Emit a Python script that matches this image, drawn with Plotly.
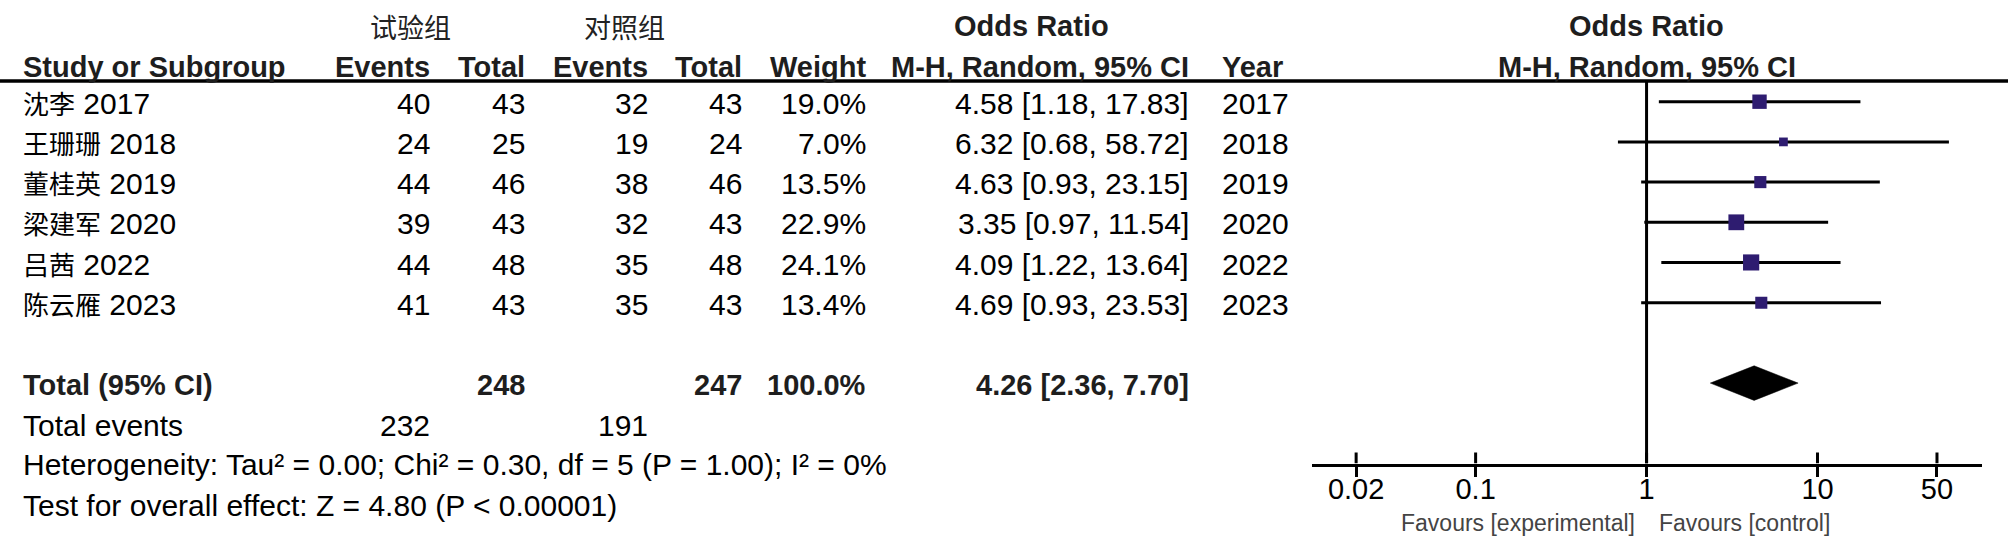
import math
import plotly.graph_objects as go

W, H = 2008, 544

# ---------------- data ----------------
studies = ["沈李 2017", "王珊珊 2018", "董桂英 2019", "梁建军 2020", "吕茜 2022", "陈云雁 2023"]
exp_events = [40, 24, 44, 39, 44, 41]
exp_total = [43, 25, 46, 43, 48, 43]
ctl_events = [32, 19, 38, 32, 35, 35]
ctl_total = [43, 24, 46, 43, 48, 43]
weights = [19.0, 7.0, 13.5, 22.9, 24.1, 13.4]
odds = [4.58, 6.32, 4.63, 3.35, 4.09, 4.69]
ci_low = [1.18, 0.68, 0.93, 0.97, 1.22, 0.93]
ci_high = [17.83, 58.72, 23.15, 11.54, 13.64, 23.53]
years = [2017, 2018, 2019, 2020, 2022, 2023]

total_exp = 248
total_ctl = 247
total_weight = 100.0
pooled_or = 4.26
pooled_low = 2.36
pooled_high = 7.70
total_exp_events = 232
total_ctl_events = 191
heterogeneity = "Heterogeneity: Tau² = 0.00; Chi² = 0.30, df = 5 (P = 1.00); I² = 0%"
overall = "Test for overall effect: Z = 4.80 (P < 0.00001)"

tick_vals = [0.02, 0.1, 1, 10, 50]
tick_text = ["0.02", "0.1", "1", "10", "50"]
favours_left = "Favours [experimental]"
favours_right = "Favours [control]"

# ---------------- layout geometry (pixels) ----------------
FONT = "Liberation Sans, Arial, Noto Sans CJK SC, sans-serif"
CJK = "Noto Sans CJK SC, sans-serif"
BODY = 30
BOLD = 29

row0_px = 101.7          # y pixel of first study row (marks)
row_step = 40.2
axis_px = row0_px + 9 * row_step   # axis line position (row index 9)
plot_left, plot_right = 1312.0, 1982.0
x_at_1, px_per_decade = 1646.56, 170.94
xr = [(plot_left - x_at_1) / px_per_decade, (plot_right - x_at_1) / px_per_decade]
y_top_idx = -row0_px / row_step
header_line_px = 81.0
header_idx = (header_line_px - row0_px) / row_step
total_idx = 7
text_off = 1.5
LEFT = 21.0
BLACK2 = "#1e1e1e"


def row_px(i):
    return row0_px + i * row_step


fig = go.Figure()

# confidence interval lines
cx, cy = [], []
for i, (lo, hi) in enumerate(zip(ci_low, ci_high)):
    cx += [lo, hi, None]
    cy += [i, i, None]
fig.add_trace(go.Scatter(x=cx, y=cy, mode="lines", line=dict(color="black", width=3),
                         hoverinfo="skip", showlegend=False))

# line of no effect
fig.add_trace(go.Scatter(x=[1, 1], y=[header_idx, 9], mode="lines",
                         line=dict(color="black", width=3), hoverinfo="skip", showlegend=False))

# upper halves of the tick marks (crossing the axis line)
tx, ty = [], []
for v in tick_vals:
    tx += [v, v, None]
    ty += [9, 9 - 11 / row_step, None]
fig.add_trace(go.Scatter(x=tx, y=ty, mode="lines", line=dict(color="black", width=3),
                         hoverinfo="skip", showlegend=False))

# squares (area proportional to weight)
fig.add_trace(go.Scatter(
    x=odds, y=list(range(len(odds))), mode="markers",
    marker=dict(symbol="square", color="#2e1c70", opacity=1,
                size=[3.3 * math.sqrt(w) for w in weights], line=dict(width=0)),
    hoverinfo="skip", showlegend=False))

# pooled diamond
dh = 17.3 / row_step
fig.add_trace(go.Scatter(
    x=[pooled_low, pooled_or, pooled_high, pooled_or, pooled_low],
    y=[total_idx, total_idx - dh, total_idx, total_idx + dh, total_idx],
    mode="lines", fill="toself", fillcolor="black", line=dict(color="black", width=0.5),
    hoverinfo="skip", showlegend=False))

# ---------------- text ----------------
ann = []


def txt(s, x, y, anchor="left", size=BODY, bold=False, color="black", family=FONT):
    ann.append(dict(text=f"<b>{s}</b>" if bold else s, x=x / W, y=1 - y / H,
                    xref="paper", yref="paper", xanchor=anchor, yanchor="middle",
                    showarrow=False, font=dict(family=family, size=size, color=color)))


hdr_a, hdr_b = 26.5, 67.0
txt("试验组", 410, hdr_a, "center", size=27, color="#222222", family=CJK)
txt("对照组", 624, hdr_a, "center", size=27, color="#222222", family=CJK)
txt("Odds Ratio", 1031, hdr_a, "center", BOLD, True, BLACK2)
txt("Odds Ratio", x_at_1, hdr_a, "center", BOLD, True, BLACK2)

txt("Study or Subgroup", LEFT, hdr_b, "left", BOLD, True, BLACK2)
txt("Events", 432, hdr_b, "right", BOLD, True, BLACK2)
txt("Total", 527, hdr_b, "right", BOLD, True, BLACK2)
txt("Events", 649.5, hdr_b, "right", BOLD, True, BLACK2)
txt("Total", 743.5, hdr_b, "right", BOLD, True, BLACK2)
txt("Weight", 868, hdr_b, "right", BOLD, True, BLACK2)
txt("M-H, Random, 95% CI", 1190.5, hdr_b, "right", BOLD, True, BLACK2)
txt("Year", 1219.5, hdr_b, "left", BOLD, True, BLACK2)
txt("M-H, Random, 95% CI", x_at_1, hdr_b, "center", BOLD, True, BLACK2)

for i in range(len(studies)):
    y = row_px(i) + text_off
    name, yr = studies[i].split(" ")
    txt(f'<span style="font-size:26px">{name}</span> {yr}', LEFT, y, "left")
    txt(str(exp_events[i]), 432, y, "right")
    txt(str(exp_total[i]), 527, y, "right")
    txt(str(ctl_events[i]), 649.5, y, "right")
    txt(str(ctl_total[i]), 743.5, y, "right")
    txt(f"{weights[i]:.1f}%", 868, y, "right")
    txt(f"{odds[i]:.2f} [{ci_low[i]:.2f}, {ci_high[i]:.2f}]", 1190.5, y, "right")
    txt(str(years[i]), 1219.5, y, "left")

yt = row_px(total_idx) + 2.0
txt("Total (95% CI)", LEFT, yt, "left", BOLD, True, BLACK2)
txt(str(total_exp), 527, yt, "right", BOLD, True, BLACK2)
txt(str(total_ctl), 743.5, yt, "right", BOLD, True, BLACK2)
txt(f"{total_weight:.1f}%", 868, yt, "right", BOLD, True, BLACK2)
txt(f"{pooled_or:.2f} [{pooled_low:.2f}, {pooled_high:.2f}]", 1190.5, yt, "right", BOLD, True, BLACK2)

txt("Total events", LEFT, 425.0, "left")
txt(str(total_exp_events), 432, 425.0, "right")
txt(str(total_ctl_events), 649.5, 425.0, "right")
txt(heterogeneity, LEFT, 464.5, "left")
txt(overall, LEFT, 505.0, "left")

txt(favours_left, x_at_1 - 10, 523.0, "right", size=23, color="#444444")
txt(favours_right, x_at_1 + 10, 523.0, "left", size=23, color="#444444")

fig.update_layout(
    width=W, height=H,
    margin=dict(l=0, r=0, t=0, b=0),
    paper_bgcolor="white", plot_bgcolor="white",
    showlegend=False,
    annotations=ann,
    shapes=[dict(type="line", xref="paper", yref="paper", x0=0, x1=1,
                 y0=1 - header_line_px / H, y1=1 - header_line_px / H,
                 line=dict(color="black", width=3.5))],
    xaxis=dict(type="log", domain=[plot_left / W, plot_right / W], range=xr,
               showgrid=False, zeroline=False, showline=True, linecolor="black", linewidth=3,
               ticks="outside", ticklen=10, tickwidth=3, tickcolor="black",
               tickvals=tick_vals, ticktext=tick_text, ticklabelstandoff=-12,
               tickfont=dict(family=FONT, size=29, color="black")),
    yaxis=dict(domain=[1 - axis_px / H, 1], range=[9, y_top_idx],
               showgrid=False, zeroline=False, showline=False, showticklabels=False, ticks=""),
)

fig.write_html("out.html", config={"displayModeBar": False},
               post_script="document.body.style.margin='0px';document.body.style.overflow='hidden';")
